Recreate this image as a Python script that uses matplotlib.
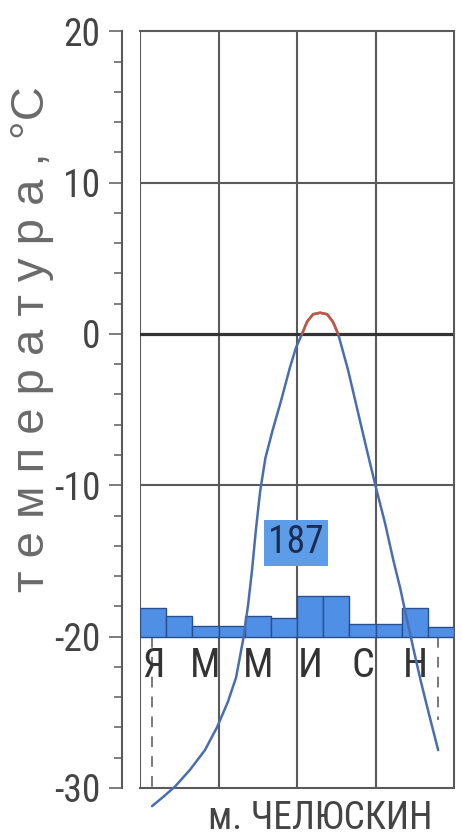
import numpy as np
import matplotlib
matplotlib.use("Agg")
import matplotlib.pyplot as plt
import matplotlib.font_manager as fm
from matplotlib.font_manager import FontProperties
from matplotlib.ft2font import FT2Font
from matplotlib.ticker import MultipleLocator

# ---------------- data ----------------
months = ["Я", "Ф", "М", "А", "М", "И", "И", "А", "С", "О", "Н", "Д"]
month_labels = ["Я", "", "М", "", "М", "", "И", "", "С", "", "Н", ""]
precip_mm = [21, 15, 8, 8, 15, 14, 30, 30, 9, 9, 21, 7]
precip_total = "187"
mm_per_degree = 11.2
precip_base = -20

# temperature curve (x in month units from start of year, temperature in deg C)
curve_x = [0.46, 0.88, 1.34, 1.91, 2.48, 2.94, 3.36, 3.67, 3.94, 4.13, 4.28, 4.43,
           4.59, 4.79, 5.06, 5.39, 5.73, 5.96, 6.19, 6.38, 6.61, 6.88, 7.15, 7.37,
           7.57, 7.95, 8.33, 8.67, 9.02, 9.36, 9.67, 9.94, 10.20, 10.47, 10.72,
           11.05, 11.39]
curve_t = [-31.2, -30.6, -29.9, -28.8, -27.5, -26.0, -24.3, -22.7, -20.2, -17.9,
           -15.6, -12.9, -10.4, -8.2, -6.4, -4.4, -2.2, -0.9, 0.0, 0.8, 1.3, 1.4,
           1.3, 0.8, 0.0, -2.4, -5.2, -7.7, -10.2, -12.5, -14.9, -16.8, -18.9,
           -21.0, -22.9, -25.2, -27.5]

# period markers (dashed verticals)
marker_x = [0.46, 11.39]
marker_bottom = [-30, -25.5]

ylabel = "т е м п е р а т у р а , °C"
title = "м. ЧЕЛЮСКИН"
yticks_major = [20, 10, 0, -10, -20, -30]

# ---------------- fonts ----------------
def has_cyr(path):
    try:
        ft = FT2Font(path)
        return all(ft.get_char_index(ord(c)) for c in "ЧЕЛЮСКИНЯМм")
    except Exception:
        return False

pref = ["Roboto Condensed", "Arial Narrow", "Liberation Sans Narrow", "PT Sans Narrow",
        "IBM Plex Sans Condensed", "Fira Sans Condensed", "Open Sans Condensed",
        "Archivo Narrow", "Noto Sans Condensed"]
entries = [f for f in fm.fontManager.ttflist if f.style == "normal"
           and f.weight in (400, "normal", "regular")]
narrow_path = None
for nm in pref:
    for f in entries:
        if f.name == nm and has_cyr(f.fname):
            narrow_path = f.fname
            break
    if narrow_path:
        break
if narrow_path is None:
    for f in entries:
        if f.stretch == "condensed" and has_cyr(f.fname):
            narrow_path = f.fname
            break
if narrow_path is None:
    narrow_path = fm.findfont(FontProperties(family="Liberation Sans"))

def NF(size):
    return FontProperties(fname=narrow_path, size=size)

REG = "Liberation Sans"

# ---------------- figure ----------------
fig = plt.figure(figsize=(4.62, 8.38), dpi=100)
ax = fig.add_axes([0.303, 0.0597, 0.680, 0.903])
ax.set_xlim(0, 12)
ax.set_ylim(-30, 20)

frame_c = "#5a5a5a"
for s in ["top", "right", "bottom"]:
    ax.spines[s].set_color(frame_c)
    ax.spines[s].set_linewidth(1.5)
ax.spines["left"].set_position(("outward", 13))
ax.spines["left"].set_color(frame_c)
ax.spines["left"].set_linewidth(1.5)
ax.axvline(0, color=frame_c, lw=1.5, zorder=1)

# grid
for xv in [3, 6, 9]:
    ax.axvline(xv, color=frame_c, lw=1.5, zorder=1)
for yv in [10, -10, -20]:
    ax.axhline(yv, color=frame_c, lw=1.5, zorder=1)
ax.axhline(0, color="#333333", lw=2.3, zorder=1)

# ticks
ax.set_xticks([])
ax.yaxis.set_minor_locator(MultipleLocator(2))
ax.set_yticks(yticks_major)
ax.set_yticklabels([str(v) for v in yticks_major])
for lab in ax.get_yticklabels():
    lab.set_fontproperties(NF(27))
    lab.set_color("#444444")
ax.tick_params(axis="y", which="major", length=9.5, width=1.1, color=frame_c, pad=6)
ax.tick_params(axis="y", which="minor", length=5.5, width=1.1, color=frame_c)

# precipitation bars
xc = np.arange(12) + 0.5
heights = np.array(precip_mm) / mm_per_degree
ax.bar(xc, heights, width=1.0, bottom=precip_base, color="#4f8fe6",
       edgecolor="#2b4f8e", linewidth=1.0, zorder=3)
ax.text(5.96, -13.8, precip_total, ha="center", va="center", fontproperties=NF(27),
        color="#1c2d55", zorder=4,
        bbox=dict(boxstyle="square,pad=0.12", fc="#5d9ce6", ec="none"))

# dashed markers
for mx, mb in zip(marker_x, marker_bottom):
    ax.plot([mx, mx], [precip_base, mb], color="#555555", lw=1.1,
            ls=(0, (7, 6)), zorder=2, clip_on=False)

# month labels
for x, lab in zip(xc, month_labels):
    if lab:
        ax.text(x, -21.9, lab, ha="center", va="center", fontproperties=NF(29),
                color="#333333", zorder=5)

# temperature curve
cx = np.array(curve_x)
ct = np.array(curve_t)
ax.plot(cx, ct, color="#4a6db0", lw=1.8, zorder=6, clip_on=False,
        solid_capstyle="round", solid_joinstyle="round")
warm = ct >= 0
ax.plot(cx[warm], ct[warm], color="#c8553f", lw=1.8, zorder=7, clip_on=False,
        solid_capstyle="round", solid_joinstyle="round")

# labels
fig.text(32 / 462, 1 - 339 / 838, ylabel, rotation=90, ha="center", va="center",
         fontfamily=REG, fontsize=34, color="#6a6a6a")
fig.text(320 / 462, 1 - 818 / 838, title, ha="center", va="center",
         fontproperties=NF(27), color="#444444")

fig.savefig("out.png", dpi=100, facecolor="white")
